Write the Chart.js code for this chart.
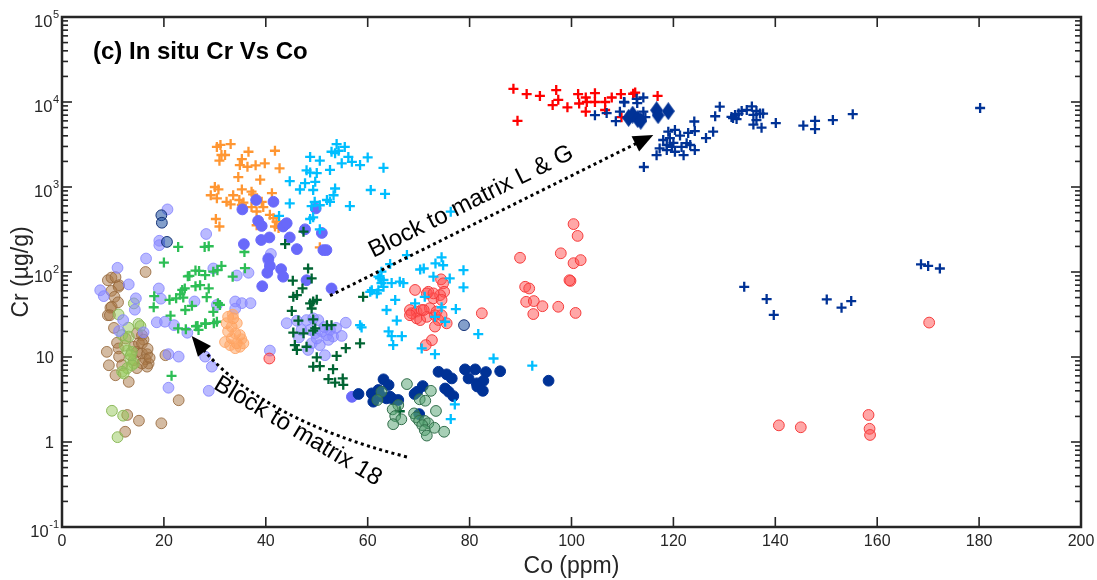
<!DOCTYPE html>
<html><head><meta charset="utf-8">
<script src="https://cdn.jsdelivr.net/npm/chart.js@4/dist/chart.umd.min.js"></script>
<style>html,body{margin:0;padding:0;background:#fff;}#wrap{width:1097px;height:580px;}</style>
</head><body><div id="wrap"><canvas id="c" width="1097" height="580"></canvas></div>
<script>
// ---------- tick labels / text ----------
const xTicks = [0,20,40,60,80,100,120,140,160,180,200];
const yTicks = [0.1,1,10,100,1000,10000,100000];
const yTickLabels = [['10','-1'],['1',''],['10',''],['10','2'],['10','3'],['10','4'],['10','5']];
const xTitle = 'Co (ppm)';
const yTitle = 'Cr (µg/g)';
const panelTitle = '(c) In situ Cr Vs Co';
const arrowText1 = 'Block to matrix L & G';
const arrowText2 = 'Block to matrix 18';

// ---------- data [Co, Cr] ----------
const brownCircles = [[9.0,80],[9.7,86],[10.5,87],[11.2,70],[9.7,60],[10.3,51],[11.0,44],[9.5,38],[9.0,31],[14.7,19],[15.7,18],[16.0,16],[10.8,14.7],[8.8,11.5],[11.1,12.6],[11.2,10.1],[14.1,13.2],[14.7,11.5],[15.7,11],[16.7,10.8],[16.4,9.4],[17.0,8.4],[16.7,7.7],[15.7,8.4],[14.7,7.4],[14.1,9.2],[9.2,8.0],[11.8,8.0],[10.5,6.1],[13.1,5.1],[20.3,10.5],[16.4,100],[22.9,3.1],[12.8,2.08],[15.1,1.78],[19.5,1.66],[12.4,1.32],[15.1,14.5],[15.7,14.5],[17.2,9.8],[12.5,16.5],[10.2,22],[16.8,12.5],[11.1,67],[9.75,39],[9.4,31]];
const lightGreenCircles = [[14.1,42.7],[11.1,31.7],[15.0,24.5],[15.4,23.1],[13.0,22.1],[11.8,18.1],[13.1,17.4],[12.8,11.9],[13.7,11.5],[13.4,9.4],[14.1,8.4],[13.7,8.0],[12.8,7.4],[11.8,6.7],[12.1,6.4],[9.8,2.33],[12.0,2.04],[10.9,1.14],[13.5,10.5],[12.3,13.6]];
const lavenderCircles = [[20.7,545],[19.1,233],[19.1,207],[28.3,280],[16.5,144],[10.9,112],[13.1,71.5],[7.5,61],[8.2,52],[14.5,49],[14.3,36],[19.0,64],[19.4,48.5],[26.0,45],[18.6,25.6],[22.0,23.7],[24.6,19.3],[11.2,20.2],[12.0,27.2],[20.9,10.8],[22.9,10.1],[28.1,10.1],[20.9,4.35],[28.8,4.0],[29.7,110],[34.3,91],[36.6,98],[30.4,41],[34.0,45],[35.3,43],[37.0,43],[34.0,37],[41.0,163],[40.5,138],[29.4,7.7],[40.8,11.9],[44.1,25],[46.1,26.7],[48.0,27.2],[49.3,28.5],[50.3,27.2],[47.0,20.8],[48.7,20.8],[49.7,19.1],[51.0,20.0],[52.0,18.1],[52.6,20.8],[53.2,17.4],[54.9,17.7],[55.7,25.3],[49.0,14.5],[50.6,13.8],[52.3,15.9],[48.3,12.1],[51.6,10.5],[50.0,16.5],[51.5,22.5],[53.8,22],[46.5,17],[20.2,26],[16.0,19.5]];
const steelBlueCircles = [[19.5,465],[19.6,380],[20.6,226],[78.9,23.7]];
const greenPlus = [[22.8,197],[20.0,129],[28.0,197],[28.8,201],[24.7,89],[26.2,104],[26.9,103],[28.1,92],[26.2,68],[27.1,70],[28.8,64],[23.6,61.5],[24.1,64],[23.2,54.5],[23.8,50],[18.1,52],[18.0,38.5],[21.1,47],[22.4,49],[21.3,30.6],[24.2,35.7],[25.5,40],[22.8,21.7],[24.3,21.2],[26.3,23],[26.8,20.8],[28.1,24.9],[21.5,6.0],[35.8,172],[35.9,111],[33.5,88],[29.7,101],[31.3,118],[28.4,50.5],[29.7,34],[30.4,26],[29.8,25],[31.0,41],[30.6,43],[26.6,23.2],[28.2,24.5],[25.0,90],[30.5,105]];
const orangeCircles = [[32.6,29.7],[33.6,28.5],[32.3,25],[33.3,22.7],[34.3,25],[32.6,20],[34.0,19],[34.9,18.1],[33.3,16.6],[32.0,15],[34.3,14.5],[35.6,14.5],[34.0,12.7],[34.9,13.2],[33.0,13.8],[33.5,31.5],[35.2,16.2]];
const orangePlus = [[31.1,3130],[33.1,3200],[31.3,2380],[32.0,2380],[30.9,2040],[36.6,2600],[41.8,2670],[35.3,2130],[34.9,1810],[36.4,1730],[39.8,1900],[42.7,1660],[34.6,1310],[38.9,1220],[30.0,1000],[30.7,937],[35.3,937],[37.2,880],[37.5,820],[29.2,800],[30.4,735],[33.6,800],[41.2,845],[32.3,670],[33.1,625],[34.8,703],[35.6,655],[35.3,616],[37.2,580],[38.2,515],[39.2,670],[39.5,580],[40.8,470],[41.5,430],[42.1,392],[41.8,343],[42.5,330],[30.2,420],[30.9,343],[38.2,355],[50.6,195],[30.4,2960],[38.0,1800]];
const blueCircles = [[38.1,703],[41.5,670],[35.4,545],[38.5,400],[39.2,348],[43.9,366],[43.4,343],[49.8,560],[47.7,318],[51.0,288],[44.7,255],[40.7,255],[39.1,238],[35.7,213],[46.1,186],[51.3,181],[51.9,181],[40.5,144],[40.8,118],[40.3,98],[43.0,108],[43.4,88],[48.0,80],[39.3,68],[52.9,64],[56.9,3.4],[44.1,375]];
const darkGreenPlus = [[48.3,110],[49.0,84],[45.3,79],[47.2,64],[45.4,51],[46.1,53.5],[48.7,42.7],[49.3,45],[50.0,47],[49.0,37.2],[45.1,34.8],[46.4,26.8],[49.3,27.7],[52.0,23.7],[52.9,23.7],[49.7,21.7],[49.3,20.4],[45.4,19.4],[47.4,19],[45.7,13.8],[46.1,12.1],[48.0,13.2],[53.9,10.3],[55.7,12.7],[58.5,14.5],[59.1,51],[50.0,9.9],[49.3,7.7],[50.6,7.8],[53.2,7.2],[52.3,5.5],[53.6,5.0],[55.1,5.6],[55.2,4.7],[47.4,298],[43.8,213],[66.3,2.3]];
const cyanPlus = [[53.9,3200],[55.5,2960],[52.9,2600],[53.6,2500],[54.3,2670],[56.2,2260],[56.9,1980],[48.7,2260],[50.6,2040],[52.6,1590],[54.9,1900],[58.5,1810],[60.0,2230],[63.1,1680],[48.0,1570],[48.7,1480],[50.0,1460],[44.7,1170],[47.7,1110],[49.7,1150],[46.7,935],[49.3,922],[53.6,960],[53.3,800],[60.6,922],[63.4,830],[52.0,703],[49.6,670],[49.0,596],[50.6,610],[56.5,596],[44.7,640],[42.6,457],[48.7,420],[49.3,440],[50.6,318],[52.6,670],[76.3,512],
 [67.7,158],[64.4,124],[71.0,110],[74.5,149],[73.3,126],[74.8,120],[72.9,88],[76.1,84],[62.7,101],[63.1,80.5],[64.7,74],[60.5,58.5],[62.1,61],[66.3,77],[67.0,74],[65.4,46.9],[63.7,35.7],[69.3,42.7],[71.2,51],[65.7,26.8],[64.1,20],[64.7,17.6],[66.7,17.6],[65.0,13.8],[58.8,22.3],[73.2,29.7],[74.5,38.5],[75.2,26],[70.6,12.6],[73.2,10.8],[78.8,105],[70.3,107],[78.8,66],[60.8,61],[62.4,84],[77.3,36.6],[81.7,18.6],[84.7,9.6],[92.3,7.9],[77.1,2.77],[76.3,1.86],[62.1,88],[62.7,74],[63.1,67],[61.8,56],[58.5,23.7]];
const redCircles = [[74.4,82],[74.8,73.5],[69.3,61.5],[71.9,58.5],[75.0,58.5],[74.2,53.5],[72.9,49],[74.5,47],[68.3,35.7],[68.6,32.7],[69.6,34.2],[70.6,35.7],[72.2,37.5],[69.6,28.5],[70.3,27.2],[71.6,29.7],[73.2,31],[73.9,27.2],[75.5,24.9],[68.3,31],[73.2,22.8],[72.6,15.8],[71.4,13.8],[82.4,32.7],[71.6,56],[72.9,56],[73.5,34.2],[74.5,31],[71.0,35.7],[40.7,9.6],
 [100.4,366],[101.2,266],[89.9,147],[97.9,166],[100.4,127],[101.8,138],[99.8,78.6],[90.9,67],[91.7,64],[91.1,44.6],[92.6,45.5],[94.3,39.6],[97.4,39],[92.5,32],[100.8,33],[99.6,80],
 [170.2,25.4],[140.7,1.57],[145.0,1.49],[158.3,2.08],[158.5,1.43],[158.6,1.21]];
const navyCircles = [[58.2,3.67],[60.8,3.73],[61.1,2.98],[63.1,5.46],[64.1,4.68],[62.1,4.09],[62.8,3.41],[64.4,3.41],[63.7,3.26],[65.0,3.18],[66.0,3.12],[70.8,4.55],[69.7,3.9],[69.2,3.67],[70.1,2.13],[73.9,6.7],[75.5,6.25],[76.5,5.6],[75.2,4.26],[75.9,3.9],[76.8,3.47],[79.1,7.15],[81.1,7.15],[83.2,6.65],[86.0,6.8],[79.8,5.6],[81.4,4.9],[82.7,5.25],[81.5,4.5],[82.6,4.0],[95.5,5.26]];
const greyGreenCircles = [[67.7,4.8],[72.4,4.0],[62.7,3.9],[61.9,3.12],[70.2,3.18],[71.3,3.06],[66.0,2.72],[64.9,2.42],[65.4,2.02],[66.6,1.85],[65.0,1.62],[73.4,2.32],[69.1,2.17],[69.5,1.95],[70.1,1.77],[71.2,1.77],[71.9,1.66],[70.7,1.58],[73.1,1.47],[71.2,1.38],[71.6,1.19],[75.0,1.32]];
const redPlus = [[88.6,14300],[91.2,12400],[93.8,11800],[97.0,13800],[97.4,10600],[96.3,9200],[99.2,8650],[101.3,12400],[102.8,11300],[104.6,12700],[101.5,9600],[103.0,10000],[104.6,10000],[106.6,10000],[107.9,11300],[109.7,12400],[112.1,12500],[112.5,12900],[116.9,11800],[102.8,7700],[106.6,8050],[109.8,6630],[89.4,6000]];
const navyPlus = [[110.3,10000],[112.8,10900],[114.1,11300],[104.6,7000],[106.9,7400],[108.7,5950],[109.5,7700],[114.1,7700],[114.5,6630],[110.4,9900],[112.9,9700],[124.1,5900],[124.2,4550],[119.0,4470],[120.3,4690],[121.3,4030],[122.9,4330],[118.0,3570],[119.3,3760],[120.0,3310],[118.7,3120],[117.3,2840],[116.7,2370],[120.3,2600],[121.6,2960],[122.6,3280],[123.3,3120],[122.0,2370],[124.2,2720],[114.2,1720],[119.7,2960],[118.7,2720],[126.4,3760],[127.8,4470],[128.2,6800],[129.1,8800],[131.4,6670],[132.1,7040],[132.8,7300],[133.4,7850],[134.4,8050],[135.4,8870],[136.3,7850],[137.0,7300],[137.6,7300],[135.7,7040],[136.3,6130],[135.7,5420],[137.3,4990],[132.4,6300],[131.7,6480],[140.1,5650],[145.5,5280],[147.8,6000],[147.8,4800],[151.3,6130],[155.2,7200],[180.2,8500],[133.9,67],[138.3,48],[139.7,31.3],[150.1,47.6],[153.0,38],[154.9,45.5],[168.6,123],[170.0,118],[172.3,110]];
const navyDiamonds = [[111.2,6500],[112.0,7100],[113.0,6300],[113.6,6000],[116.7,8000],[117.0,7000],[119.0,7800]];

// annotation anchors in data units [Co, Cr]
const arrow1 = {from:[52.6,52.6], to:[116.05,4090]};
const arrow2 = {from:[67.7,0.667], ctrl:[39.25,1.81], to:[25.45,17.66]};
const label1 = {at:[80.9,569], angle:-26.5};
const label2 = {at:[45.6,1.145], angle:31};

// ---------- build ----------
const pts = a => a.map(p => ({x:p[0], y:p[1]}));
function diamondImg(){
  const c = document.createElement('canvas'); c.width = 13; c.height = 18;
  const g = c.getContext('2d'); g.fillStyle = 'rgb(0,50,150)';
  g.beginPath(); g.moveTo(6.5,0); g.lineTo(13,9); g.lineTo(6.5,18); g.lineTo(0,9); g.closePath(); g.fill();
  return c;
}
const circ = (data, fill, edge, r) => ({data:pts(data), pointStyle:'circle', pointRadius:r||5.4, backgroundColor:fill, borderColor:edge, borderWidth:1});
const plus = (data, col) => ({data:pts(data), pointStyle:'cross', pointRadius:5, borderColor:col, backgroundColor:col, borderWidth:2.3});

const datasets = [
  {data:pts(navyDiamonds), pointStyle:diamondImg(), pointRadius:8},
  plus(navyPlus,'rgb(0,50,150)'),
  plus(redPlus,'rgb(255,0,0)'),
  circ(steelBlueCircles,'rgba(30,80,160,0.55)','rgb(20,50,120)'),
  plus(cyanPlus,'rgb(0,190,255)'),
  circ(greyGreenCircles,'rgba(80,160,110,0.5)','rgb(50,110,75)'),
  circ(navyCircles,'rgb(0,50,150)','rgb(0,50,150)'),
  circ(redCircles,'rgba(255,80,80,0.5)','rgb(245,60,60)'),
  plus(darkGreenPlus,'rgb(0,100,50)'),
  circ(blueCircles,'rgb(105,105,250)','rgb(105,105,250)'),
  plus(orangePlus,'rgb(255,150,50)'),
  circ(orangeCircles,'rgba(255,160,90,0.5)','rgb(255,170,110)'),
  plus(greenPlus,'rgb(45,190,85)'),
  circ(lavenderCircles,'rgba(140,140,255,0.6)','rgba(130,130,255,0.8)'),
  circ(lightGreenCircles,'rgba(150,200,90,0.5)','rgb(140,185,90)'),
  circ(brownCircles,'rgba(170,120,70,0.5)','rgba(150,105,60,0.85)')
];

const NARROW = '"Liberation Sans Narrow","Arial Narrow","Liberation Sans",Arial,sans-serif';
const SANS = '"Liberation Sans",Arial,Helvetica,sans-serif';
const INK = '#262626';

const deco = {
  id:'deco',
  afterDatasetsDraw(chart){
    const {ctx, chartArea:a, scales:{x, y}} = chart;
    const P = d => [x.getPixelForValue(d[0]), y.getPixelForValue(d[1])];
    ctx.save();
    // ---- annotations ----
    ctx.strokeStyle = '#000'; ctx.fillStyle = '#000';
    ctx.lineWidth = 3; ctx.setLineDash([3,3.4]); ctx.lineCap = 'butt';
    const head = (tip, from) => {
      const dx = tip[0]-from[0], dy = tip[1]-from[1], L = Math.hypot(dx,dy);
      const ux = dx/L, uy = dy/L, hl = 20, hw = 8.5;
      const bx = tip[0]-ux*hl, by = tip[1]-uy*hl;
      ctx.setLineDash([]);
      ctx.beginPath(); ctx.moveTo(tip[0],tip[1]);
      ctx.lineTo(bx - uy*hw, by + ux*hw); ctx.lineTo(bx + uy*hw, by - ux*hw); ctx.closePath(); ctx.fill();
      ctx.setLineDash([3,3.4]);
    };
    let s = P(arrow1.from), t = P(arrow1.to);
    {
      const dx=t[0]-s[0], dy=t[1]-s[1], L=Math.hypot(dx,dy);
      ctx.beginPath(); ctx.moveTo(s[0],s[1]); ctx.lineTo(t[0]-dx/L*14, t[1]-dy/L*14); ctx.stroke();
      head(t, s);
    }
    s = P(arrow2.from); const c2 = P(arrow2.ctrl); t = P(arrow2.to);
    ctx.beginPath(); ctx.moveTo(s[0],s[1]); ctx.quadraticCurveTo(c2[0],c2[1],t[0]+(c2[0]-t[0])*0.12,t[1]+(c2[1]-t[1])*0.12); ctx.stroke();
    head(t, c2);
    ctx.setLineDash([]);
    ctx.font = '24px '+SANS; ctx.textAlign = 'center'; ctx.textBaseline = 'alphabetic';
    [[label1, arrowText1],[label2, arrowText2]].forEach(([lb, txt]) => {
      const p = P(lb.at); ctx.save(); ctx.translate(p[0],p[1]); ctx.rotate(lb.angle*Math.PI/180);
      ctx.fillText(txt, 0, 0); ctx.restore();
    });
    // ---- panel title ----
    ctx.font = 'bold 24px '+SANS; ctx.textAlign = 'left'; ctx.fillStyle = '#000';
    ctx.fillText(panelTitle, a.left+31, a.top+42);
    // ---- frame ----
    ctx.strokeStyle = INK; ctx.fillStyle = INK;
    ctx.lineWidth = 2.5; ctx.strokeRect(a.left, a.top, a.right-a.left, a.bottom-a.top);
    // ---- ticks ----
    ctx.lineWidth = 1.6;
    const seg = (x1,y1,x2,y2) => { ctx.beginPath(); ctx.moveTo(x1,y1); ctx.lineTo(x2,y2); ctx.stroke(); };
    ctx.font = '16px '+NARROW; ctx.textAlign = 'center';
    xTicks.forEach(v => {
      const px = x.getPixelForValue(v);
      if (v > x.min && v < x.max) { seg(px,a.bottom,px,a.bottom-10); seg(px,a.top,px,a.top+10); }
      ctx.fillText(String(v), px, a.bottom+19);
    });
    for (let k = -1; k < 5; k++) {
      for (let m = 2; m <= 9; m++) {
        const py = y.getPixelForValue(m*Math.pow(10,k));
        seg(a.left,py,a.left+6,py); seg(a.right,py,a.right-6,py);
      }
    }
    yTicks.forEach((v,i) => {
      const py = y.getPixelForValue(v);
      if (v > y.min && v < y.max) { seg(a.left,py,a.left+10,py); seg(a.right,py,a.right-10,py); }
      const [base, ex] = yTickLabels[i];
      ctx.textAlign = 'right';
      if (ex) {
        ctx.font = '11px '+NARROW; const w = ctx.measureText(ex).width;
        ctx.fillText(ex, a.left-3, py+1);
        ctx.font = '16.5px '+NARROW; ctx.fillText(base, a.left-3-w-0.5, py+10);
      } else {
        ctx.font = '16.5px '+NARROW; ctx.fillText(base, a.left-8, py+6);
      }
    });
    // ---- axis titles ----
    ctx.fillStyle = INK; ctx.font = '23px '+SANS; ctx.textAlign = 'center';
    ctx.fillText(xTitle, (a.left+a.right)/2, a.bottom+46);
    ctx.save(); ctx.translate(a.left-34, (a.top+a.bottom)/2); ctx.rotate(-Math.PI/2);
    ctx.fillText(yTitle, 0, 0); ctx.restore();
    ctx.restore();
  }
};

new Chart(document.getElementById('c'), {
  type:'scatter',
  data:{datasets},
  options:{
    responsive:false, animation:false, devicePixelRatio:1, events:[],
    layout:{padding:{left:62, right:16, top:17, bottom:53}},
    plugins:{legend:{display:false}, tooltip:{enabled:false}},
    scales:{
      x:{type:'linear', min:0, max:200, display:false},
      y:{type:'logarithmic', min:0.1, max:100000, display:false}
    }
  },
  plugins:[deco]
});
</script></body></html>
